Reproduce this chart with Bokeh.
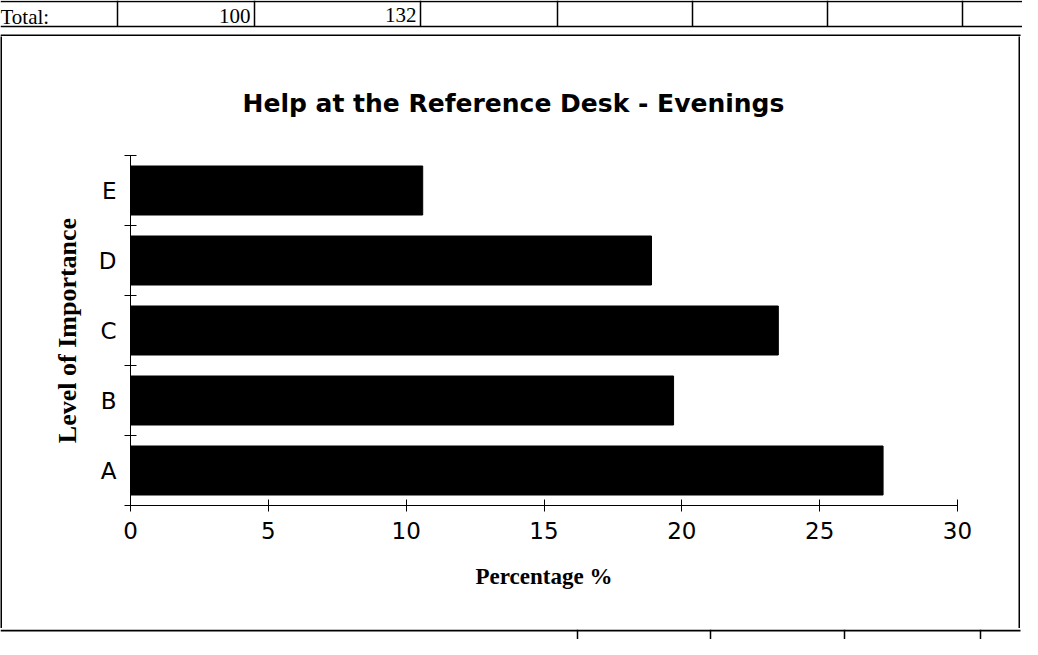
from bokeh.plotting import figure
from bokeh.layouts import column, row
from bokeh.models import FixedTicker, Range1d
from bokeh.core.properties import value
from bokeh.embed import file_html
from bokeh.resources import INLINE

# ---- data ----
categories = ["A", "B", "C", "D", "E"]
percentages = [27.3, 19.7, 23.5, 18.9, 10.6]
x_ticks = [0, 5, 10, 15, 20, 25, 30]
title_text = "Help at the Reference Desk - Evenings"
x_title = "Percentage %"
y_title = "Level of Importance"
total_label = "Total:"
total_pct = 100
total_count = 132

W = 1022
TOP_H, MAIN_H, BOT_H = 36, 592, 11
BOX_W = 1020
EDGE = 2
MAIN_W = BOX_W - 2 * EDGE


def no_align(fig):
    try:
        fig.frame_align = False
    except Exception:
        pass


def blank(width, height, xr, yr, bg="white"):
    f = figure(width=width, height=height, x_range=xr, y_range=yr,
               x_axis_type=None, y_axis_type=None, output_backend="svg",
               toolbar_location=None, min_border=0)
    f.outline_line_color = None
    f.background_fill_color = bg
    f.border_fill_color = bg
    no_align(f)
    return f


# ---------- spreadsheet row above the chart ----------
top = blank(W, TOP_H, Range1d(0, W), Range1d(TOP_H, 0))
top.text(x=[0], y=[16], text=[total_label], text_align="left", text_baseline="middle",
         text_font=value("Liberation Serif"), text_font_size="21px", text_color="black")
top.text(x=[250, 416], y=[15, 14], text=[str(total_pct), str(total_count)],
         text_align="right", text_baseline="middle",
         text_font=value("Liberation Serif"), text_font_size="21px", text_color="black")
col_x = [117, 254, 420, 557, 692, 827, 962]
top.segment(x0=col_x, y0=[0] * len(col_x), x1=col_x, y1=[26] * len(col_x),
            line_color="black", line_width=1.5)
top.segment(x0=[0, 0], y0=[1, 26], x1=[W, W], y1=[1, 26], line_color="black", line_width=1.5)
# top edge of the chart box
top.segment(x0=[0], y0=[TOP_H - 1], x1=[BOX_W], y1=[TOP_H - 1], line_color="black", line_width=2)
top.segment(x0=[1, BOX_W - 1], y0=[TOP_H - 1] * 2, x1=[1, BOX_W - 1], y1=[TOP_H] * 2,
            line_color="black", line_width=2)

# ---------- the chart ----------
p = figure(width=MAIN_W, height=MAIN_H, x_range=(0, 30), y_range=(0, len(categories)),
           output_backend="svg", toolbar_location=None,
           min_border_left=128, min_border_right=61,
           min_border_top=119, min_border_bottom=123)
no_align(p)
p.background_fill_color = "white"
p.border_fill_color = "white"
p.outline_line_color = None
p.xgrid.visible = False
p.ygrid.visible = False

p.title.text = title_text
p.title.align = "left"
p.title.offset = 112
p.title.text_font = "DejaVu Sans"
p.title.text_font_style = "bold"
p.title.text_font_size = "25px"
p.title.text_color = "black"
p.title.standoff = 75

ypos = [i + 0.5 for i in range(len(categories))]
p.hbar(y=ypos, left=0, right=percentages, height=0.7,
       fill_color="black", line_color="black")

tick_font = "DejaVu Sans"
xa = p.xaxis[0]
xa.ticker = FixedTicker(ticks=x_ticks, minor_ticks=[])
xa.axis_line_color = "black"
xa.major_tick_line_color = "black"
xa.major_tick_in = 6
xa.major_tick_out = 6
xa.major_label_text_font = tick_font
xa.major_label_text_font_size = "23px"
xa.major_label_text_color = "black"
xa.major_label_standoff = 10
xa.axis_label = x_title
xa.axis_label_text_font = "Liberation Serif"
xa.axis_label_text_font_style = "bold"
xa.axis_label_text_font_size = "23px"
xa.axis_label_text_color = "black"
xa.axis_label_standoff = 22

ya = p.yaxis[0]
ya.ticker = FixedTicker(ticks=ypos, minor_ticks=list(range(len(categories) + 1)))
ya.major_label_overrides = {y: c for y, c in zip(ypos, categories)}
ya.major_tick_in = 0
ya.major_tick_out = 0
ya.minor_tick_in = 6
ya.minor_tick_out = 6
ya.minor_tick_line_color = "black"
ya.axis_line_color = "black"
ya.major_label_text_font = tick_font
ya.major_label_text_font_size = "23px"
ya.major_label_text_color = "black"
ya.major_label_standoff = 8
ya.axis_label = y_title
ya.axis_label_text_font = "Liberation Serif"
ya.axis_label_text_font_style = "bold"
ya.axis_label_text_font_size = "26px"
ya.axis_label_text_color = "black"
ya.axis_label_standoff = 14

# left / right edges of the chart box
left_edge = blank(EDGE, MAIN_H, Range1d(0, 1), Range1d(0, 1), bg="black")
right_edge = blank(EDGE, MAIN_H, Range1d(0, 1), Range1d(0, 1), bg="black")

# ---------- spreadsheet cells below the chart ----------
bot = blank(W, BOT_H, Range1d(0, W), Range1d(BOT_H, 0))
bot.segment(x0=[0], y0=[1], x1=[BOX_W], y1=[1], line_color="black", line_width=2)
bcol = [577, 710, 844, 980]
bot.segment(x0=bcol, y0=[0] * len(bcol), x1=bcol, y1=[BOT_H] * len(bcol),
            line_color="black", line_width=1.5)

layout = column(top, row(left_edge, p, right_edge, spacing=0), bot, spacing=0)
open("out.html", "w").write(file_html(layout, INLINE))
